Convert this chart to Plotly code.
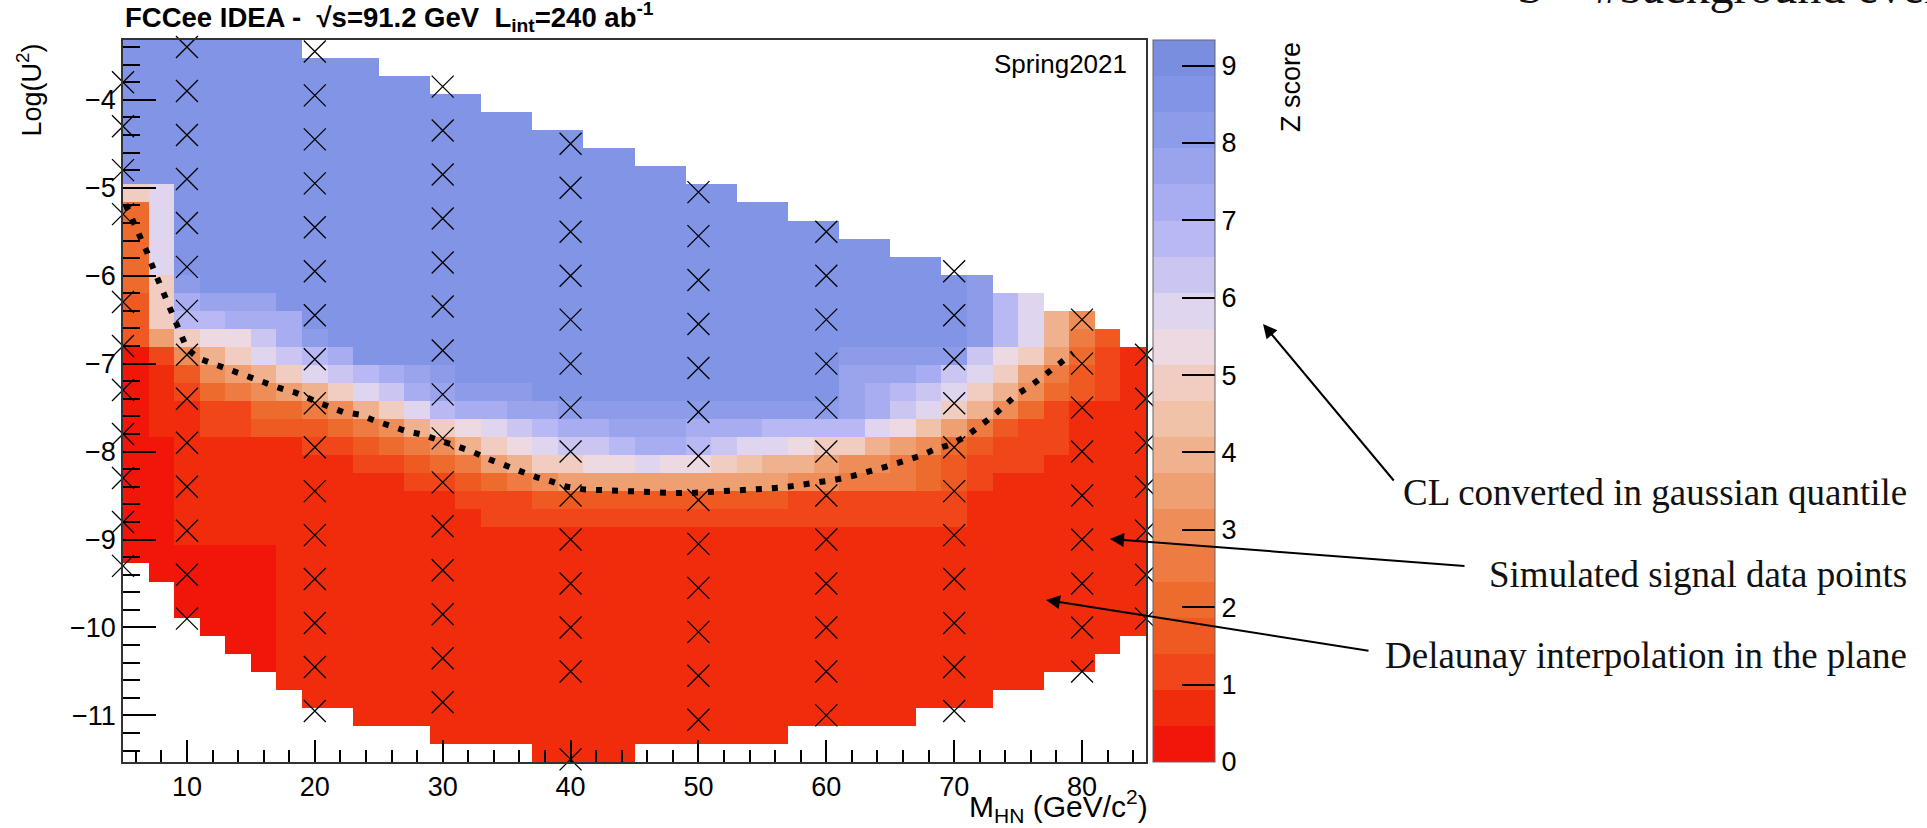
import plotly.graph_objects as go
import numpy as np

# ---------------- figure geometry (pixels) ----------------
W, H = 1927, 828
PL, PR, PT, PB = 123, 1146, 40, 762  # plot area

X_RANGE = [5, 85]
Y_RANGE = [-11.53, -3.32]
Z_MAX = 9.33
N_LEVELS = 20

# ---------------- palette (level 0 = red ... level 19 = blue) ----------------
PALETTE = [
    "#f2150a", "#f02c0c", "#f0461a", "#ef5a22", "#ee6b2e",
    "#ee7c42", "#ee8d58", "#efa072", "#f0b28e", "#f0c2a8",
    "#f0cdc0", "#ecd9e2", "#dfd5ef", "#cbc6f1", "#b8b8f5",
    "#a8adf1", "#9aa4ed", "#8d9ce9", "#8194e6", "#7a8ee0",
]

# ---------------- interpolated Z-score grid (colour band index per cell) ----
# rows from top (Log(U^2) high) to bottom, 40 columns from M=5 to M=85
# '0'-'9' -> band 0-9, 'a'-'j' -> band 10-19, '.' -> empty
Z_ROWS = [
    "iiiiiii..." ".........." ".........." "..........",
    "iiiiiiiiii" ".........." ".........." "..........",
    "iiiiiiiiii" "ii........" ".........." "..........",
    "iiiiiiiiii" "iiii......" ".........." "..........",
    "iiiiiiiiii" "iiiiii...." ".........." "..........",
    "iiiiiiiiii" "iiiiiiii.." ".........." "..........",
    "iiiiiiiiii" "iiiiiiiiii" ".........." "..........",
    "iiiiiiiiii" "iiiiiiiiii" "ii........" "..........",
    "aciiiiiiii" "iiiiiiiiii" "iiii......" "..........",
    "4ciiiiiiii" "iiiiiiiiii" "iiiiii...." "..........",
    "4ciiiiiiii" "iiiiiiiiii" "iiiiiiii.." "..........",
    "4ciiiiiiii" "iiiiiiiiii" "iiiiiiiiii" "..........",
    "4ciiiiiiii" "iiiiiiiiii" "iiiiiiiiii" "ii........",
    "4ahiiiiiii" "iiiiiiiiii" "iiiiiiiiii" "iiih......",
    "3afgggiiii" "iiiiiiiiii" "iiiiiiiiii" "iiihec....",
    "3aeefffiii" "iiiiiiiiii" "iiiiiiiiii" "iiihec86..",
    "37abbdfhii" "iiiiiiiiii" "iiiiiiiiii" "iiihec853.",
    "0268acdefi" "iiiiiiiiii" "iiiiiiiihh" "hhhdba7421",
    "013678acde" "fghiiiiiii" "iiiiiiiigg" "gfdca75321",
    "01245678ac" "dfghhhiiii" "iiiiiiiigf" "edca864321",
    "0112244568" "aceffgghhh" "hhhhhhhhgf" "dca8642111",
    "0112233345" "68abcdeffg" "ggfffeeeec" "b975322111",
    "0011111223" "4568abcdde" "ffedccbaa8" "7643222111",
    "0011111112" "234578aabb" "cbba988766" "5432221111",
    "0011111111" "1223456777" "7777776655" "5432111111",
    "0011111111" "1112223333" "3333332222" "2221111111",
    "0011111111" "1111222222" "2222222222" "2221111111",
    "0011111111" "1111111111" "1111111111" "1111111111",
    "0000001111" "1111111111" "1111111111" "1111111111",
    ".000001111" "1111111111" "1111111111" "1111111111",
    "..00001111" "1111111111" "1111111111" "1111111111",
    "..00001111" "1111111111" "1111111111" "1111111111",
    "...0001111" "1111111111" "1111111111" "1111111111",
    "....001111" "1111111111" "1111111111" "111111111.",
    ".....01111" "1111111111" "1111111111" "11111111..",
    "......1111" "1111111111" "1111111111" "111111....",
    ".......111" "1111111111" "1111111111" "1111......",
    ".........1" "1111111111" "1111111111" "1.........",
    ".........." "..11111111" "111111...." "..........",
    ".........." "......1111" ".........." "..........",
]

# ---------------- simulated signal points: Log(U^2) per mass ----------------
MASSES = [5, 10, 20, 30, 40, 50, 60, 70, 80, 85]
U2_M5 = [-3.8, -4.3, -4.8, -5.3, -6.3, -6.8, -7.3, -7.8, -8.3, -8.8, -9.3]
U2_M10 = [-3.4, -3.9, -4.4, -4.9, -5.4, -5.9, -6.4, -6.9, -7.4, -7.9, -8.4, -8.9, -9.4, -9.9]
U2_M20 = [-3.45, -3.95, -4.45, -4.95, -5.45, -5.95, -6.45, -6.95, -7.45, -7.95, -8.45,
          -8.95, -9.45, -9.95, -10.45, -10.95]
U2_M30 = [-3.85, -4.35, -4.85, -5.35, -5.85, -6.35, -6.85, -7.35, -7.85, -8.35, -8.85,
          -9.35, -9.85, -10.35, -10.85]
U2_M40 = [-4.5, -5.0, -5.5, -6.0, -6.5, -7.0, -7.5, -8.0, -8.5, -9.0, -9.5, -10.0, -10.5, -11.5]
U2_M50 = [-5.05, -5.55, -6.05, -6.55, -7.05, -7.55, -8.05, -8.55, -9.05, -9.55, -10.05, -10.55, -11.05]
U2_M60 = [-5.5, -6.0, -6.5, -7.0, -7.5, -8.0, -8.5, -9.0, -9.5, -10.0, -10.5, -11.0]
U2_M70 = [-5.95, -6.45, -6.95, -7.45, -7.95, -8.45, -8.95, -9.45, -9.95, -10.45, -10.95]
U2_M80 = [-6.5, -7.0, -7.5, -8.0, -8.5, -9.0, -9.5, -10.0, -10.5]
U2_M85 = [-6.9, -7.4, -7.9, -8.4, -8.9, -9.4, -9.9]
U2_BY_MASS = [U2_M5, U2_M10, U2_M20, U2_M30, U2_M40, U2_M50, U2_M60, U2_M70, U2_M80, U2_M85]

# ---------------- dotted exclusion contour ----------------
CONTOUR_M = [5.2, 5.8, 6.3, 6.9, 7.4, 7.9, 8.4, 8.9, 9.5, 10.0,
             10.9, 12.2, 13.4, 14.7, 16.0, 17.1, 18.5, 19.6, 20.4, 22.2,
             23.5, 24.7, 26.0, 27.2, 28.5, 29.8, 31.1, 32.3, 33.5, 34.7,
             36.0, 37.3, 38.5, 39.7, 41.0, 42.3, 43.6, 44.9, 46.5, 48.0,
             49.5, 51.0, 52.5, 54.0, 55.5, 57.0, 58.1, 59.4, 60.7, 62.0,
             63.4, 64.7, 66.0, 67.3, 68.4, 69.7, 70.9, 71.8, 73.0, 74.0,
             74.9, 76.1, 77.2, 78.1, 79.3]
CONTOUR_U2 = [-5.19, -5.38, -5.57, -5.74, -5.93, -6.10, -6.28, -6.46, -6.64, -6.83,
              -6.94, -7.01, -7.07, -7.14, -7.20, -7.27, -7.33, -7.39, -7.45, -7.55,
              -7.58, -7.65, -7.72, -7.77, -7.81, -7.87, -7.94, -8.00, -8.08, -8.15,
              -8.21, -8.29, -8.34, -8.40, -8.43, -8.44, -8.44, -8.45, -8.46, -8.47,
              -8.47, -8.46, -8.45, -8.43, -8.42, -8.40, -8.38, -8.36, -8.32, -8.28,
              -8.23, -8.17, -8.11, -8.05, -7.98, -7.92, -7.83, -7.74, -7.60, -7.47,
              -7.35, -7.24, -7.12, -7.01, -6.88]

Z_TICKS = [0, 1, 2, 3, 4, 5, 6, 7, 8, 9]

# ---------------- build the traces ----------------
LEVEL_CHARS = "0123456789abcdefghij"
band = Z_MAX / N_LEVELS
nrows = len(Z_ROWS)
ncols = len(Z_ROWS[0])
z = []
for row in reversed(Z_ROWS):  # bottom row first
    z.append([None if ch == "." else (LEVEL_CHARS.index(ch) + 0.5) * band for ch in row])

dx = (X_RANGE[1] - X_RANGE[0]) / ncols
dy = (Y_RANGE[1] - Y_RANGE[0]) / nrows

colorscale = []
for k, c in enumerate(PALETTE):
    colorscale.append([k / N_LEVELS, c])
    colorscale.append([(k + 1) / N_LEVELS, c])


def px_x(p):
    return (p - PL) / (PR - PL)


def px_y(p):
    return (PB - p) / (PB - PT)


fig = go.Figure()
fig.add_trace(go.Heatmap(
    z=z, x0=X_RANGE[0] + dx / 2, dx=dx, y0=Y_RANGE[0] + dy / 2, dy=dy,
    zmin=0, zmax=Z_MAX, colorscale=colorscale, zsmooth=False, hoverongaps=False,
    colorbar=dict(
        x=px_x(1153), xanchor="left", y=0.5, yanchor="middle",
        len=1, lenmode="fraction", thickness=62, thicknessmode="pixels",
        xpad=0, ypad=0, outlinewidth=1, outlinecolor="#666",
        tickmode="array", tickvals=Z_TICKS, ticks="inside", ticklen=33,
        tickwidth=1.5, tickcolor="black",
        tickfont=dict(family="Liberation Sans, Arial, sans-serif", size=27, color="black"),
    ),
))

mx, my = [], []
for m, vals in zip(MASSES, U2_BY_MASS):
    mx.extend([m] * len(vals))
    my.extend(vals)
fig.add_trace(go.Scatter(
    x=mx, y=my, mode="markers", cliponaxis=False,
    marker=dict(symbol="x-thin", size=22, color="black",
                line=dict(width=1.3, color="black")),
    hoverinfo="skip",
))

fig.add_trace(go.Scatter(
    x=CONTOUR_M, y=CONTOUR_U2, mode="lines",
    line=dict(color="black", width=6, dash="6px,10px"),
    hoverinfo="skip",
))

axis_font = dict(family="Liberation Sans, Arial, sans-serif", size=27, color="black")
fig.update_layout(
    width=W, height=H,
    margin=dict(l=PL, r=W - PR, t=PT, b=H - PB, pad=0),
    paper_bgcolor="white", plot_bgcolor="white", showlegend=False,
    font=axis_font,
    xaxis=dict(
        range=X_RANGE, tick0=0, dtick=10, ticks="inside", ticklen=22, tickwidth=1.5,
        tickcolor="black", tickfont=axis_font,
        minor=dict(dtick=2, ticks="inside", ticklen=12, tickwidth=1.5, tickcolor="black"),
        showline=True, mirror=True, linecolor="#333", linewidth=1.5,
        showgrid=False, zeroline=False,
    ),
    yaxis=dict(
        range=Y_RANGE, tick0=0, dtick=1, ticks="inside", ticklen=33, tickwidth=1.5,
        tickcolor="black", tickfont=axis_font,
        minor=dict(dtick=0.2, ticks="inside", ticklen=17, tickwidth=1.5, tickcolor="black"),
        showline=True, mirror=True, linecolor="#333", linewidth=1.5,
        showgrid=False, zeroline=False,
    ),
)

sans = "Liberation Sans, Arial, sans-serif"
serif = "Liberation Serif, Times New Roman, serif"
nb = "\u00a0"
ann = [
    dict(text="<b>FCCee IDEA -" + nb * 2 + "\u221as=91.2 GeV" + nb * 2 +
              "L<sub>int</sub>=240 ab<sup>-1</sup></b>",
         x=px_x(123), y=px_y(17), xanchor="left", yanchor="middle",
         font=dict(family=sans, size=27.5, color="black")),
    dict(text="Spring2021", x=px_x(1129), y=px_y(64), xanchor="right", yanchor="middle",
         font=dict(family=sans, size=26, color="black")),
    dict(text="Log(U<sup>2</sup>)", x=px_x(30), y=px_y(42), xanchor="center", yanchor="top",
         textangle=-90, font=dict(family=sans, size=27, color="black")),
    dict(text="M<sub>HN</sub> (GeV/c<sup>2</sup>)", x=px_x(1150), y=px_y(806),
         xanchor="right", yanchor="middle", font=dict(family=sans, size=30, color="black")),
    dict(text="Z score", x=px_x(1291), y=px_y(40), xanchor="center", yanchor="top",
         textangle=-90, font=dict(family=sans, size=27, color="black")),
    dict(text="CL converted in gaussian quantile", x=px_x(1909), y=px_y(492),
         xanchor="right", yanchor="middle", font=dict(family=serif, size=37, color="#111")),
    dict(text="Simulated signal data points", x=px_x(1909), y=px_y(575),
         xanchor="right", yanchor="middle", font=dict(family=serif, size=37, color="#111")),
    dict(text="Delaunay interpolation in the plane", x=px_x(1909), y=px_y(655),
         xanchor="right", yanchor="middle", font=dict(family=serif, size=37, color="#111")),
    dict(text="S = #background events", x=px_x(1515), y=px_y(15), xanchor="left",
         yanchor="bottom", font=dict(family=serif, size=48, color="#111")),
]
for a in ann:
    a.update(xref="paper", yref="paper", showarrow=False)
    fig.add_annotation(**a)

# arrows: (head_px, head_py, tail_px, tail_py)
ARROWS = [(1263, 324, 1395, 482), (1110, 539, 1466, 566), (1046, 600, 1370, 651)]
for hx, hy, tx, ty in ARROWS:
    fig.add_annotation(
        x=px_x(hx), y=px_y(hy), xref="paper", yref="paper", text="",
        showarrow=True, ax=tx - hx, ay=ty - hy, axref="pixel", ayref="pixel",
        arrowhead=2, arrowsize=1.4, arrowwidth=2, arrowcolor="black",
        standoff=0, startstandoff=0,
    )

fig.write_html("out.html")
